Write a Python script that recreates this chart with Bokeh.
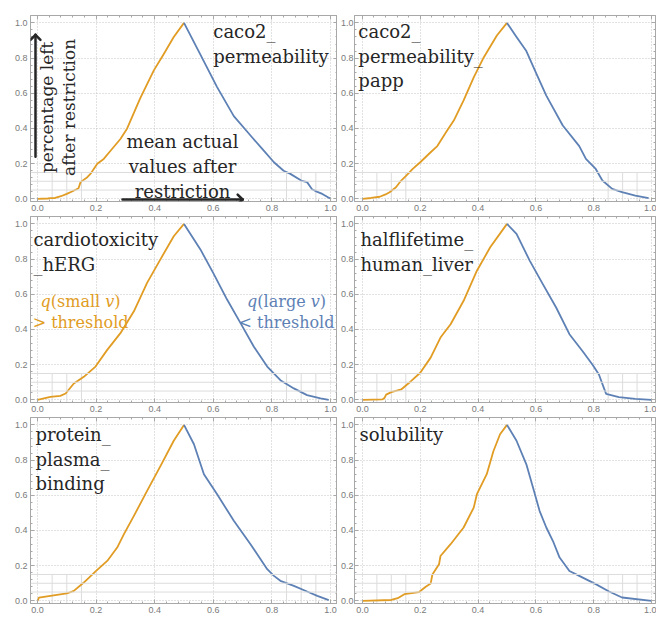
import numpy as np
from bokeh.plotting import figure
from bokeh.models import (Range1d, Label, PolyAnnotation, LinearAxis, Span,
                          FixedTicker, PrintfTickFormatter)
from bokeh.layouts import gridplot
from bokeh.embed import file_html
from bokeh.resources import INLINE

# ---------------- data ----------------
titles = [
    ["caco2_", "permeability"],
    ["caco2_", "permeability_", "papp"],
    ["cardiotoxicity", "_hERG"],
    ["halflifetime_", "human_liver"],
    ["protein_", "plasma_", "binding"],
    ["solubility"],
]

caco2_small_x = [0.0, 0.035, 0.045, 0.06, 0.08, 0.10, 0.118, 0.14, 0.147, 0.17, 0.18, 0.204, 0.226, 0.25, 0.283, 0.306, 0.35, 0.397, 0.43, 0.465, 0.5]
caco2_small_y = [0.0, 0.002, 0.004, 0.005, 0.015, 0.028, 0.042, 0.06, 0.095, 0.123, 0.14, 0.20, 0.227, 0.275, 0.34, 0.40, 0.57, 0.73, 0.82, 0.92, 1.0]
caco2_large_x = [0.5, 0.556, 0.613, 0.67, 0.727, 0.767, 0.807, 0.84, 0.863, 0.9, 0.92, 0.937, 0.955, 0.972, 0.99, 1.0]
caco2_large_y = [1.0, 0.82, 0.635, 0.47, 0.36, 0.284, 0.208, 0.16, 0.142, 0.104, 0.095, 0.055, 0.04, 0.028, 0.01, 0.002]

papp_small_x = [0.0, 0.03, 0.06, 0.08, 0.094, 0.116, 0.134, 0.15, 0.174, 0.2, 0.236, 0.259, 0.293, 0.316, 0.35, 0.385, 0.42, 0.465, 0.5]
papp_small_y = [0.0, 0.005, 0.012, 0.025, 0.038, 0.066, 0.104, 0.129, 0.17, 0.208, 0.265, 0.30, 0.388, 0.445, 0.56, 0.69, 0.805, 0.928, 1.0]
papp_large_x = [0.5, 0.533, 0.567, 0.602, 0.636, 0.693, 0.75, 0.773, 0.807, 0.83, 0.864, 0.898, 0.944, 0.99]
papp_large_y = [1.0, 0.92, 0.84, 0.71, 0.587, 0.417, 0.30, 0.227, 0.17, 0.104, 0.057, 0.038, 0.019, 0.004]

herg_small_x = [0.0, 0.044, 0.078, 0.096, 0.124, 0.158, 0.198, 0.238, 0.283, 0.329, 0.374, 0.42, 0.465, 0.5]
herg_small_y = [0.0, 0.017, 0.023, 0.036, 0.093, 0.131, 0.189, 0.284, 0.379, 0.503, 0.665, 0.80, 0.93, 1.0]
herg_large_x = [0.5, 0.556, 0.60, 0.647, 0.693, 0.738, 0.784, 0.829, 0.875, 0.92, 0.966, 0.994]
herg_large_y = [1.0, 0.855, 0.72, 0.57, 0.436, 0.303, 0.189, 0.112, 0.065, 0.027, 0.008, 0.0]

half_small_x = [0.0, 0.07, 0.076, 0.082, 0.1, 0.134, 0.168, 0.2, 0.236, 0.27, 0.305, 0.35, 0.396, 0.442, 0.5]
half_small_y = [0.0, 0.003, 0.01, 0.03, 0.044, 0.059, 0.106, 0.154, 0.24, 0.354, 0.43, 0.563, 0.734, 0.867, 1.0]
half_large_x = [0.5, 0.533, 0.579, 0.624, 0.67, 0.716, 0.761, 0.796, 0.818, 0.835, 0.843, 0.887, 0.944, 1.0]
half_large_y = [1.0, 0.943, 0.79, 0.658, 0.525, 0.373, 0.278, 0.2, 0.144, 0.068, 0.034, 0.015, 0.006, 0.0]

ppb_small_x = [0.0, 0.005, 0.044, 0.1, 0.124, 0.158, 0.2, 0.238, 0.272, 0.295, 0.329, 0.374, 0.42, 0.465, 0.5]
ppb_small_y = [0.0, 0.019, 0.028, 0.042, 0.057, 0.104, 0.17, 0.227, 0.303, 0.379, 0.483, 0.625, 0.767, 0.91, 1.0]
ppb_large_x = [0.5, 0.534, 0.568, 0.613, 0.67, 0.727, 0.784, 0.807, 0.829, 0.875, 0.92, 0.955, 0.994]
ppb_large_y = [1.0, 0.89, 0.72, 0.606, 0.455, 0.322, 0.18, 0.142, 0.114, 0.085, 0.053, 0.028, 0.004]

sol_small_x = [0.0, 0.1, 0.122, 0.145, 0.196, 0.219, 0.236, 0.242, 0.265, 0.27, 0.305, 0.35, 0.385, 0.396, 0.43, 0.453, 0.476, 0.5]
sol_small_y = [0.0, 0.005, 0.015, 0.038, 0.05, 0.08, 0.098, 0.15, 0.208, 0.255, 0.322, 0.417, 0.53, 0.606, 0.72, 0.85, 0.947, 1.0]
sol_large_x = [0.5, 0.533, 0.567, 0.59, 0.613, 0.636, 0.659, 0.682, 0.716, 0.75, 0.807, 0.853, 0.898, 1.0]
sol_large_y = [1.0, 0.91, 0.776, 0.644, 0.51, 0.417, 0.34, 0.246, 0.17, 0.142, 0.095, 0.053, 0.019, 0.0]

tick_values = [0.0, 0.2, 0.4, 0.6, 0.8, 1.0]
minor_tick_values = [round(0.04 * i, 2) for i in range(26)]
band_y = [0.05, 0.10, 0.15]
band_x = [0.05, 0.10, 0.15, 0.85, 0.90, 0.95]

# ---------------- style ----------------
ORANGE = "#E19C24"
BLUE = "#5E81B5"
DARK = "#262626"
FRAME = "#a8a8a8"
TICKLAB = "#7a7a7a"
GRID = "#c4c4c4"
BAND = "#dcdcdc"
SERIF = "DejaVu Serif"

FRAME_H = 186
Y0, Y1 = -0.015, 1.042
PX_Y = FRAME_H / (Y1 - Y0)
PX_X = 293.0
col_cfg = [
    dict(width=337, left=30, right=0, xr=(-0.0239, 1.0239)),
    dict(width=319, left=14, right=1, xr=(-0.0274, 1.0137)),
]
row_cfg = [dict(top=15), dict(top=1), dict(top=1)]
BOTTOM = 14

# serif advance widths (em) for composing mixed italic labels
CW = {' ': 0.318, '(': 0.390, ')': 0.390, 's': 0.513, 'm': 0.948, 'a': 0.596,
      'l': 0.320, 'r': 0.478, 'g': 0.640, 'e': 0.592, 'q': 0.640, 'v': 0.565}


def text_width(t, size):
    return sum(CW.get(c, 0.6) for c in t) * size


def make_panel(i):
    r, c = divmod(i, 2)
    cc, rc = col_cfg[c], row_cfg[r]
    p = figure(width=cc["width"], height=rc["top"] + FRAME_H + BOTTOM,
               x_range=Range1d(*cc["xr"]), y_range=Range1d(Y0, Y1),
               output_backend="svg", toolbar_location=None,
               min_border_left=cc["left"], min_border_right=cc["right"],
               min_border_top=rc["top"], min_border_bottom=BOTTOM)
    p.outline_line_color = FRAME
    p.background_fill_color = "white"
    p.border_fill_color = "white"
    ticker = FixedTicker(ticks=tick_values, minor_ticks=minor_tick_values)
    for ax in (p.xaxis[0], p.yaxis[0]):
        ax.ticker = ticker
        ax.formatter = PrintfTickFormatter(format="%.1f")
        ax.axis_line_color = FRAME
        ax.major_tick_line_color = FRAME
        ax.minor_tick_line_color = FRAME
        ax.major_tick_in = 4
        ax.major_tick_out = 0
        ax.minor_tick_in = 2
        ax.minor_tick_out = 0
        ax.major_label_text_font = "Liberation Sans"
        ax.major_label_text_font_size = "9px"
        ax.major_label_text_color = TICKLAB
    p.xaxis[0].major_label_standoff = 3
    p.yaxis[0].major_label_standoff = 3 if c == 0 else 1
    for loc in ("above", "right"):
        ax = LinearAxis(ticker=ticker, major_label_text_font_size="1px",
                        major_label_text_color=None,
                        major_label_standoff=0, axis_line_color=FRAME,
                        major_tick_line_color=FRAME, minor_tick_line_color=FRAME,
                        major_tick_in=4, major_tick_out=0, minor_tick_in=2,
                        minor_tick_out=0)
        p.add_layout(ax, loc)
    p.xgrid.ticker = FixedTicker(ticks=tick_values)
    p.ygrid.ticker = FixedTicker(ticks=tick_values)
    for g in (p.xgrid, p.ygrid):
        g.grid_line_color = GRID
        g.grid_line_dash = "1 2"
        g.grid_line_width = 1
    for yv in band_y:
        p.add_layout(Span(location=yv, dimension="width", line_color=BAND, line_width=1))
    p.segment(x0=band_x, y0=[Y0] * len(band_x), x1=band_x, y1=[band_y[-1]] * len(band_x),
              line_color=BAND, line_width=1)
    return p


panels = [make_panel(i) for i in range(6)]
series = [
    (caco2_small_x, caco2_small_y, caco2_large_x, caco2_large_y),
    (papp_small_x, papp_small_y, papp_large_x, papp_large_y),
    (herg_small_x, herg_small_y, herg_large_x, herg_large_y),
    (half_small_x, half_small_y, half_large_x, half_large_y),
    (ppb_small_x, ppb_small_y, ppb_large_x, ppb_large_y),
    (sol_small_x, sol_small_y, sol_large_x, sol_large_y),
]
for p, (sx, sy, lx, ly) in zip(panels, series):
    p.line(sx, sy, line_color=ORANGE, line_width=1.8, line_join="round")
    p.line(lx, ly, line_color=BLUE, line_width=1.8, line_join="round")

# titles: (x data, first baseline y data)
title_pos = [(0.60, 0.949), (-0.014, 0.949), (-0.014, 0.909), (-0.007, 0.909),
             (-0.007, 0.943), (-0.010, 0.943)]
for p, lines, (tx, ty) in zip(panels, titles, title_pos):
    for k, t in enumerate(lines):
        p.add_layout(Label(x=tx, y=ty, y_offset=-24.5 * k, text=t, text_font=SERIF,
                           text_font_size="18px", text_color=DARK,
                           text_align="left", text_baseline="alphabetic"))

# panel 1 explanatory annotations
p1 = panels[0]


def draw_arrow(p, x0, y0, x1, y1, head=7, lw=2.5, color=DARK):
    dx, dy = (x1 - x0) * PX_X, (y1 - y0) * PX_Y
    n = np.hypot(dx, dy)
    ux, uy = dx / n, dy / n
    segs = [([x0, x1, x0], [y0, y1, y0])]
    for s in (1, -1):
        a = np.pi / 4 * s
        bx = -(ux * np.cos(a) - uy * np.sin(a)) * head
        by = -(ux * np.sin(a) + uy * np.cos(a)) * head
        segs.append(([x1 + bx / PX_X, x1, x1 + bx / PX_X], [y1 + by / PX_Y, y1, y1 + by / PX_Y]))
    for xs, ys in segs:
        p.add_layout(PolyAnnotation(xs=xs, ys=ys, fill_alpha=0, fill_color=None,
                                    line_color=color, line_alpha=1.0,
                                    line_width=lw, line_cap="round", line_join="round"))


ax_x = col_cfg[0]["xr"][0] + 5 / PX_X      # just inside the left frame edge
ax_y = Y0 + 2 / PX_Y                       # just inside the bottom frame edge
draw_arrow(p1, ax_x, 0.239, ax_x, 0.932)
draw_arrow(p1, 0.29, ax_y, 0.70, ax_y)

for t, xx in (("percentage left", 0.034), ("after restriction", 0.106)):
    p1.add_layout(Label(x=xx, y=0.52, text=t, angle=np.pi / 2, text_font=SERIF,
                        text_font_size="17px", text_color=DARK,
                        text_align="center", text_baseline="alphabetic"))
for k, t in enumerate(["mean actual", "values after", "restriction"]):
    p1.add_layout(Label(x=0.495, y=0.324, y_offset=-25 * k, text=t, text_font=SERIF,
                        text_font_size="18px", text_color=DARK,
                        text_align="center", text_baseline="alphabetic"))

# panel 3 legend-like annotations with italic q and v
p3 = panels[2]


def mixed(p, xc, y, pieces, color, size=16):
    total = sum(text_width(t, size) for t, _ in pieces)
    off = -total / 2
    for t, style in pieces:
        p.add_layout(Label(x=xc, y=y, x_offset=off, text=t, text_font=SERIF,
                           text_font_size=f"{size}px", text_font_style=style,
                           text_color=color, text_align="left",
                           text_baseline="alphabetic"))
        off += text_width(t, size)


mixed(p3, 0.147, 0.557, [("q", "italic"), ("(small ", "normal"), ("v", "italic"), (")", "normal")], ORANGE)
p3.add_layout(Label(x=0.147, y=0.4375, text="> threshold", text_font=SERIF,
                    text_font_size="16px", text_color=ORANGE, text_align="center",
                    text_baseline="alphabetic"))
mixed(p3, 0.85, 0.557, [("q", "italic"), ("(large ", "normal"), ("v", "italic"), (")", "normal")], BLUE)
p3.add_layout(Label(x=0.85, y=0.4375, text="< threshold", text_font=SERIF,
                    text_font_size="16px", text_color=BLUE, text_align="center",
                    text_baseline="alphabetic"))

grid = gridplot([[panels[0], panels[1]], [panels[2], panels[3]], [panels[4], panels[5]]],
                toolbar_location=None)

open("out.html", "w").write(file_html(grid, INLINE))
